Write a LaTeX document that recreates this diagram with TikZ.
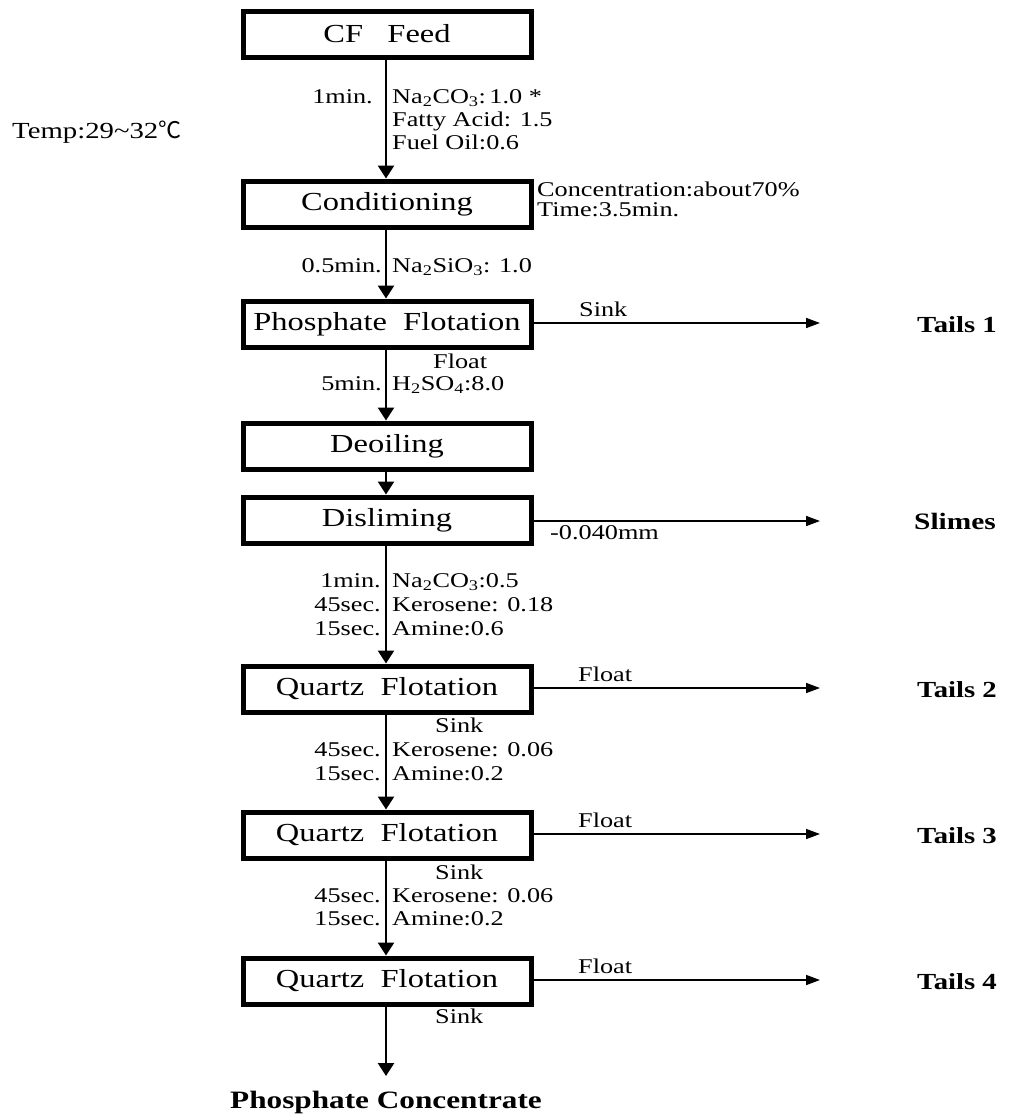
\documentclass[tikz,border=0pt]{standalone}
\usepackage{fontspec}
\setmainfont{Liberation Serif}[FakeStretch=1.25]
\newfontfamily\cjk{Noto Sans CJK SC}
\usetikzlibrary{arrows.meta}
\begin{document}
\begin{tikzpicture}[x=1pt,y=-1pt,
  stepbox/.style={draw,line width=5pt,minimum width=288pt,minimum height=46pt,
    inner sep=0pt,font=\fontsize{26}{30}\selectfont},
  lbl/.style={inner sep=0pt,font=\fontsize{21}{24}\selectfont},
  tag/.style={inner sep=0pt,font=\fontsize{23}{26}\selectfont\bfseries},
  flow/.style={line width=2.6pt,-{Triangle[length=13pt,width=16pt]}},
  side/.style={line width=1.6pt,-{Triangle[length=14pt,width=10pt]}}]
\useasboundingbox (0,0) rectangle (1015,1114);

% process steps
\node[stepbox] (feed)  at (387,34)  {CF\ \ \ Feed};
\node[stepbox] (cond)  at (387,204) {Conditioning};
\node[stepbox] (pflot) at (387,324) {Phosphate\ \ Flotation};
\node[stepbox] (deoil) at (387,446) {Deoiling};
\node[stepbox] (slime) at (387,520) {Disliming};
\node[stepbox] (q1)    at (387,689) {Quartz\ \ Flotation};
\node[stepbox] (q2)    at (387,835) {Quartz\ \ Flotation};
\node[stepbox] (q3)    at (387,981) {Quartz\ \ Flotation};

% main line
\draw[flow] (feed.south -| 386,0)  -- (cond.north -| 386,0);
\draw[flow] (cond.south -| 386,0)  -- (pflot.north -| 386,0);
\draw[flow] (pflot.south -| 386,0) -- (deoil.north -| 386,0);
\draw[flow] (deoil.south -| 386,0) -- (slime.north -| 386,0);
\draw[flow] (slime.south -| 386,0) -- (q1.north -| 386,0);
\draw[flow] (q1.south -| 386,0)    -- (q2.north -| 386,0);
\draw[flow] (q2.south -| 386,0)    -- (q3.north -| 386,0);
\coordinate (pcend) at (386,1076);
\draw[flow] (q3.south -| 386,0)    -- (pcend);
\node[tag,font=\fontsize{25}{28}\selectfont\bfseries,anchor=base] (pc) at (386,1108) {Phosphate Concentrate};

% side products
\coordinate (t1end) at (820,323);
\coordinate (slend) at (820,521);
\coordinate (t2end) at (820,688);
\coordinate (t3end) at (820,834);
\coordinate (t4end) at (820,980);
\draw[side] (pflot.east |- t1end) -- (t1end);
\draw[side] (slime.east |- slend) -- (slend);
\draw[side] (q1.east |- t2end) -- (t2end);
\draw[side] (q2.east |- t3end) -- (t3end);
\draw[side] (q3.east |- t4end) -- (t4end);
\node[lbl,anchor=base west] (s1) at (579,316) {Sink};
\node[lbl,anchor=base west] (mm) at (550,539) {-0.040mm};
\node[lbl,anchor=base west] (f2) at (578,681) {Float};
\node[lbl,anchor=base west] (f3) at (578,827) {Float};
\node[lbl,anchor=base west] (f4) at (578,973) {Float};
\node[tag,anchor=base west] (tails1) at (917,332) {Tails 1};
\node[tag,font=\fontsize{23.5}{26}\selectfont\bfseries,anchor=base west] (slimes) at (914,529) {Slimes};
\node[tag,anchor=base west] (tails2) at (917,697) {Tails 2};
\node[tag,anchor=base west] (tails3) at (917,843) {Tails 3};
\node[tag,anchor=base west] (tails4) at (917,989) {Tails 4};

% conditions
\node[lbl,font=\fontsize{23}{26}\selectfont,anchor=base west] (temp) at (12,138) {Temp:29\textasciitilde 32{\cjk ℃}};
\node[lbl,anchor=base west] (conc) at (537,196) {Concentration:about70\%};
\node[lbl,anchor=base west] (time) at (537,216) {Time:3.5min.};

% reagents, feed to conditioning
\node[lbl,anchor=base east] (a1) at (373,103) {1min.};
\node[lbl,anchor=base west] (r1) at (392,103) {Na\textsubscript{2}CO\textsubscript{3}:\,1.0 *};
\node[lbl,anchor=base west] (r2) at (392,126) {Fatty Acid: 1.5};
\node[lbl,anchor=base west] (r3) at (392,149) {Fuel Oil:0.6};
% conditioning to phosphate flotation
\node[lbl,anchor=base east] (a2) at (382,272) {0.5min.};
\node[lbl,anchor=base west] (r4) at (392,272) {Na\textsubscript{2}SiO\textsubscript{3}: 1.0};
% phosphate flotation to deoiling
\node[lbl,anchor=base west] (fl1) at (433,368) {Float};
\node[lbl,anchor=base east] (a3) at (382,390) {5min.};
\node[lbl,anchor=base west] (r5) at (392,390) {H\textsubscript{2}SO\textsubscript{4}:8.0};
% disliming to quartz flotation
\node[lbl,anchor=base east] (a4) at (381,587) {1min.};
\node[lbl,anchor=base west] (r6) at (392,587) {Na\textsubscript{2}CO\textsubscript{3}:0.5};
\node[lbl,anchor=base east] (a5) at (381,611) {45sec.};
\node[lbl,anchor=base west] (r7) at (392,611) {Kerosene: 0.18};
\node[lbl,anchor=base east] (a6) at (381,635) {15sec.};
\node[lbl,anchor=base west] (r8) at (392,635) {Amine:0.6};
% first to second quartz flotation
\node[lbl,anchor=base west] (sk1) at (435,732) {Sink};
\node[lbl,anchor=base east] (a7) at (381,756) {45sec.};
\node[lbl,anchor=base west] (r9) at (392,756) {Kerosene: 0.06};
\node[lbl,anchor=base east] (a8) at (381,780) {15sec.};
\node[lbl,anchor=base west] (r10) at (392,780) {Amine:0.2};
% second to third quartz flotation
\node[lbl,anchor=base west] (sk2) at (435,879) {Sink};
\node[lbl,anchor=base east] (a9) at (381,902) {45sec.};
\node[lbl,anchor=base west] (r11) at (392,902) {Kerosene: 0.06};
\node[lbl,anchor=base east] (a10) at (381,925) {15sec.};
\node[lbl,anchor=base west] (r12) at (392,925) {Amine:0.2};
% concentrate
\node[lbl,anchor=base west] (sk3) at (435,1023) {Sink};
\end{tikzpicture}
\end{document}
